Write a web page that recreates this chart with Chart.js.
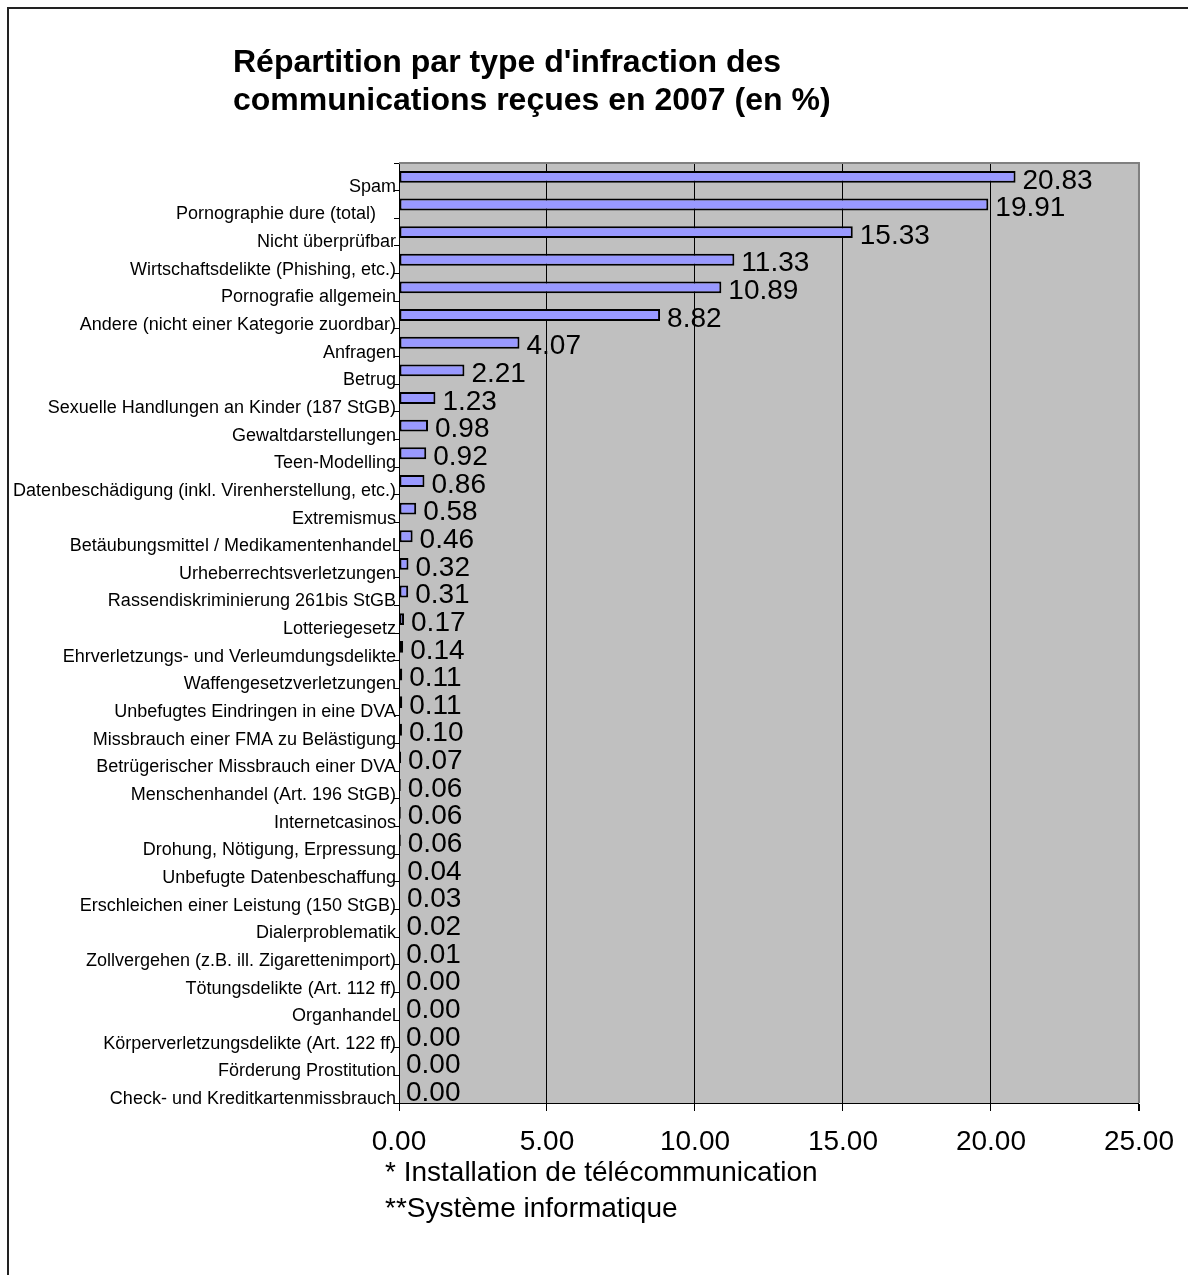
<!DOCTYPE html>
<html>
<head>
<meta charset="utf-8">
<script src="https://cdn.jsdelivr.net/npm/chart.js@4/dist/chart.umd.min.js"></script>
<style>
  html, body { margin: 0; padding: 0; background: #ffffff; }
  #wrap { position: relative; width: 1188px; height: 1275px; }
  canvas { display: block; }
</style>
</head>
<body>
<div id="wrap"><canvas id="c" width="1188" height="1275"></canvas></div>
<script>
const categories = [
  "Spam",
  "Pornographie dure (total)    ",
  "Nicht überprüfbar",
  "Wirtschaftsdelikte (Phishing, etc.)",
  "Pornografie allgemein",
  "Andere (nicht einer Kategorie zuordbar)",
  "Anfragen",
  "Betrug",
  "Sexuelle Handlungen an Kinder (187 StGB)",
  "Gewaltdarstellungen",
  "Teen-Modelling",
  "Datenbeschädigung (inkl. Virenherstellung, etc.)",
  "Extremismus",
  "Betäubungsmittel / Medikamentenhandel",
  "Urheberrechtsverletzungen",
  "Rassendiskriminierung 261bis StGB",
  "Lotteriegesetz",
  "Ehrverletzungs- und Verleumdungsdelikte",
  "Waffengesetzverletzungen",
  "Unbefugtes Eindringen in eine DVA",
  "Missbrauch einer FMA zu Belästigung",
  "Betrügerischer Missbrauch einer DVA",
  "Menschenhandel (Art. 196 StGB)",
  "Internetcasinos",
  "Drohung, Nötigung, Erpressung",
  "Unbefugte Datenbeschaffung",
  "Erschleichen einer Leistung (150 StGB)",
  "Dialerproblematik",
  "Zollvergehen (z.B. ill. Zigarettenimport)",
  "Tötungsdelikte (Art. 112 ff)",
  "Organhandel",
  "Körperverletzungsdelikte (Art. 122 ff)",
  "Förderung Prostitution",
  "Check- und Kreditkartenmissbrauch"
];
const values = [
  20.83, 19.91, 15.33, 11.33, 10.89, 8.82, 4.07, 2.21, 1.23, 0.98,
  0.92, 0.86, 0.58, 0.46, 0.32, 0.31, 0.17, 0.14, 0.11, 0.11,
  0.10, 0.07, 0.06, 0.06, 0.06, 0.04, 0.03, 0.02, 0.01, 0.00,
  0.00, 0.00, 0.00, 0.00
];
const xMin = 0;
const xMax = 25;
const xStep = 5;
const titleLines = [
  "Répartition par type d'infraction des",
  "communications reçues en 2007 (en %)"
];
const footnotes = [
  "* Installation de télécommunication",
  "**Système informatique"
];

const FONT = "'Liberation Sans', Arial, sans-serif";

const decorPlugin = {
  id: 'decor',
  beforeDraw(chart) {
    const ctx = chart.ctx;
    const a = chart.chartArea;
    ctx.save();
    ctx.fillStyle = '#ffffff';
    ctx.fillRect(0, 0, chart.width, chart.height);
    ctx.strokeStyle = '#222222';
    ctx.lineWidth = 2;
    ctx.beginPath();
    ctx.moveTo(8, chart.height);
    ctx.lineTo(8, 8);
    ctx.lineTo(chart.width, 8);
    ctx.stroke();
    ctx.fillStyle = '#C0C0C0';
    ctx.fillRect(a.left, a.top, a.right - a.left, a.bottom - a.top);
    ctx.fillStyle = '#000000';
    ctx.font = "bold 32px " + FONT;
    ctx.textAlign = 'left';
    ctx.textBaseline = 'alphabetic';
    ctx.fillText(titleLines[0], 233, 72);
    ctx.fillText(titleLines[1], 233, 110);
    ctx.font = "28px " + FONT;
    ctx.fillText(footnotes[0], 385, 1181);
    ctx.fillText(footnotes[1], 385, 1217);
    ctx.restore();
  },
  afterDraw(chart) {
    const ctx = chart.ctx;
    const a = chart.chartArea;
    ctx.save();
    ctx.strokeStyle = '#808080';
    ctx.lineWidth = 2;
    ctx.beginPath();
    ctx.moveTo(a.left, a.top);
    ctx.lineTo(a.right, a.top);
    ctx.lineTo(a.right, a.bottom);
    ctx.stroke();
    ctx.restore();
  }
};

const valueLabelPlugin = {
  id: 'valueLabels',
  afterDatasetsDraw(chart) {
    const ctx = chart.ctx;
    const meta = chart.getDatasetMeta(0);
    const ds = chart.data.datasets[0].data;
    ctx.save();
    ctx.fillStyle = '#000000';
    ctx.font = "28px " + FONT;
    ctx.textAlign = 'left';
    ctx.textBaseline = 'middle';
    meta.data.forEach((bar, i) => {
      const v = ds[i];
      ctx.fillText(v.toFixed(2), bar.x + 7, bar.y + 4);
    });
    ctx.restore();
  }
};

new Chart(document.getElementById('c'), {
  type: 'bar',
  data: {
    labels: categories,
    datasets: [{
      data: values,
      backgroundColor: '#9999FF',
      borderColor: '#000000',
      borderWidth: 2,
      borderSkipped: false,
      barPercentage: 0.43,
      categoryPercentage: 1.0
    }]
  },
  options: {
    indexAxis: 'y',
    responsive: false,
    animation: false,
    devicePixelRatio: 1,
    layout: { padding: { top: 163, left: 0, right: 46, bottom: 112 } },
    plugins: {
      legend: { display: false },
      tooltip: { enabled: false },
      title: { display: false }
    },
    scales: {
      y: {
        type: 'category',
        offset: true,
        afterFit(scale) { scale.width = 399; },
        grid: {
          offset: true,
          drawOnChartArea: false,
          drawTicks: true,
          tickLength: 5,
          color: '#000000',
          lineWidth: 1
        },
        border: { display: true, color: '#000000', width: 1 },
        ticks: {
          autoSkip: false,
          color: '#000000',
          font: { family: FONT, size: 18 },
          padding: -2,
          labelOffset: 10
        }
      },
      x: {
        type: 'linear',
        min: xMin,
        max: xMax,
        afterFit(scale) { scale.height = 60; },
        grid: {
          drawTicks: true,
          tickLength: 8,
          color: (c) => (c.tick && c.tick.value === xMax) ? '#808080' : '#000000',
          lineWidth: (c) => (c.tick && c.tick.value === xMax) ? 2 : 1,
          tickColor: '#000000'
        },
        border: { display: true, color: '#000000', width: 1 },
        ticks: {
          stepSize: xStep,
          maxRotation: 0,
          color: '#000000',
          font: { family: FONT, size: 28 },
          padding: 14,
          callback: (v) => Number(v).toFixed(2)
        }
      }
    }
  },
  plugins: [decorPlugin, valueLabelPlugin]
});
</script>
</body>
</html>
